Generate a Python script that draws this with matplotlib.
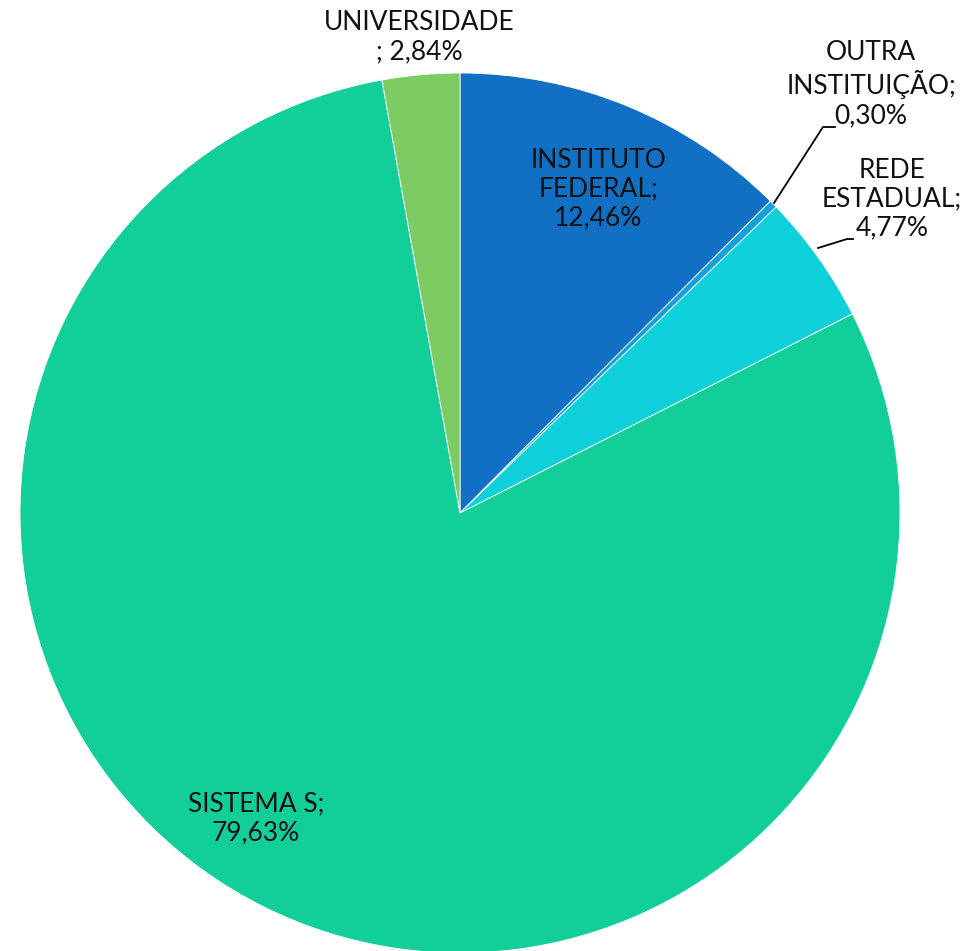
import matplotlib
matplotlib.use("Agg")
import matplotlib.pyplot as plt

plt.rcParams['font.family'] = ['Lato', 'DejaVu Sans']

categories = ["INSTITUTO FEDERAL", "OUTRA INSTITUIÇÃO", "REDE ESTADUAL", "SISTEMA S", "UNIVERSIDADE"]
shares = [12.46, 0.30, 4.77, 79.63, 2.84]
colors = ["#1170C4", "#179FDB", "#0FCFD8", "#12CF9A", "#7DCB63"]

W, H = 980, 951
fig = plt.figure(figsize=(W / 100, H / 100), dpi=100)
ax = fig.add_axes([0, 0, 1, 1])

cx, cy, r = 460, H - 513, 440
ax.pie(shares, colors=colors, startangle=90, counterclock=False,
       center=(cx, cy), radius=r, frame=True,
       wedgeprops=dict(edgecolor="white", linewidth=0.6))
ax.set_xlim(0, W)
ax.set_ylim(0, H)
ax.set_aspect("auto")
ax.axis("off")


def fmt(v):
    return f"{v:.2f}".replace(".", ",") + "%"


txt = dict(fontsize=19, color="#111111", ha="center", va="center",
           linespacing=1.2)

label_text = {
    "INSTITUTO FEDERAL": "INSTITUTO\nFEDERAL;\n" + fmt(shares[0]),
    "OUTRA INSTITUIÇÃO": "OUTRA\nINSTITUIÇÃO;\n" + fmt(shares[1]),
    "REDE ESTADUAL": "REDE\nESTADUAL;\n" + fmt(shares[2]),
    "SISTEMA S": "SISTEMA S;\n" + fmt(shares[3]),
    "UNIVERSIDADE": "UNIVERSIDADE\n; " + fmt(shares[4]),
}
label_pos = {
    "INSTITUTO FEDERAL": (598, 189),
    "OUTRA INSTITUIÇÃO": (871, 84),
    "REDE ESTADUAL": (892, 199),
    "SISTEMA S": (256, 818),
    "UNIVERSIDADE": (419, 37),
}
for name in categories:
    x, y = label_pos[name]
    ax.text(x, H - y, label_text[name], **txt)

# leader lines for the two thin slices
ax.plot([774, 823, 835], [H - 203, H - 127, H - 127], color="black", lw=1.3)
ax.plot([818, 847, 853], [H - 248, H - 239, H - 239], color="black", lw=1.3)

fig.savefig("out.png", dpi=100, facecolor="white")
